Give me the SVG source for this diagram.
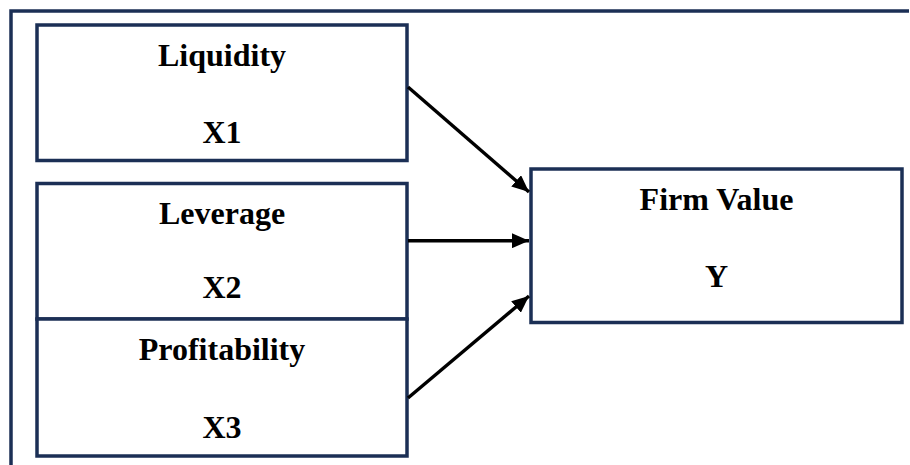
<svg xmlns="http://www.w3.org/2000/svg" width="910" height="465" viewBox="0 0 910 465">
  <defs>
    <style>
      .box { fill: #ffffff; stroke: #1b2f55; stroke-width: 3.5; }
      .frame { fill: none; stroke: #1b2f55; stroke-width: 3.5; }
      .lbl { font-family: "Liberation Serif", "Times New Roman", serif; font-weight: bold; font-size: 32px; fill: #000000; text-anchor: middle; }
      .conn { stroke: #000000; stroke-width: 3.4; fill: none; marker-end: url(#arrow); }
    </style>
    <marker id="arrow" markerUnits="userSpaceOnUse" markerWidth="17" markerHeight="15" refX="17" refY="7.5" orient="auto">
      <path d="M0,0 L17,7.5 L0,15 Z" fill="#000000"/>
    </marker>
  </defs>
  <rect width="910" height="465" fill="#ffffff"/>
  <path class="frame" d="M11,465 L11,11 L909,11"/>
  <g id="liquidity">
    <rect class="box" x="37" y="25" width="370" height="135.5"/>
    <text class="lbl" x="222" y="66">Liquidity</text>
    <text class="lbl" x="222" y="143">X1</text>
  </g>
  <g id="leverage">
    <rect class="box" x="37" y="183.5" width="370" height="135.5"/>
    <text class="lbl" x="222" y="223.5">Leverage</text>
    <text class="lbl" x="222" y="298">X2</text>
  </g>
  <g id="profitability">
    <rect class="box" x="37" y="319" width="370" height="137"/>
    <text class="lbl" x="222" y="359.5">Profitability</text>
    <text class="lbl" x="222" y="437.5">X3</text>
  </g>
  <g id="firmvalue">
    <rect class="box" x="531" y="169" width="371" height="153.5"/>
    <text class="lbl" x="716.5" y="210">Firm Value</text>
    <text class="lbl" x="716.5" y="287">Y</text>
  </g>
  <g id="connectors">
    <line class="conn" x1="408" y1="87" x2="529" y2="192"/>
    <line class="conn" x1="408" y1="240.7" x2="529" y2="240.7"/>
    <line class="conn" x1="408" y1="398" x2="529" y2="296"/>
  </g>
</svg>
